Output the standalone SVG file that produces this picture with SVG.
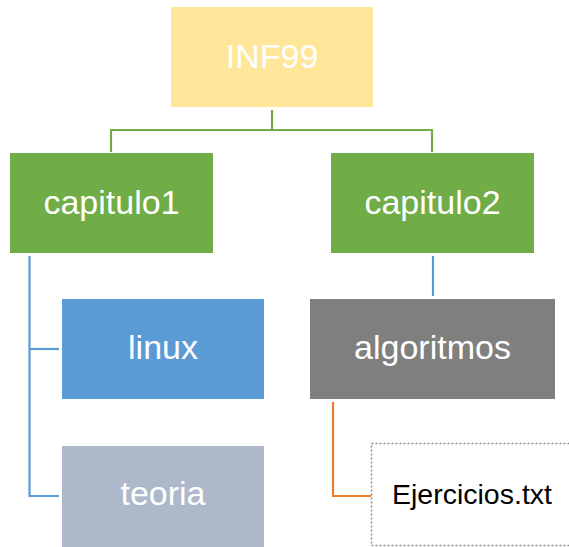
<svg xmlns="http://www.w3.org/2000/svg" width="569" height="547" viewBox="0 0 569 547">
<style>
.t{font-family:"Liberation Sans",Arial,sans-serif;font-size:34px;fill:#fff;text-anchor:middle}
.c{fill:none;stroke-width:2.2}
</style>
<rect width="569" height="547" fill="#fff"/>
<g id="connectors">
<polyline class="c" stroke="#70AD47" points="272,110 272,130"/>
<polyline class="c" stroke="#70AD47" points="111,152 111,130 432,130 432,152"/>
<polyline class="c" stroke="#5B9BD5" points="29.5,256 29.5,496 59,496"/>
<polyline class="c" stroke="#5B9BD5" points="29.5,349 59,349"/>
<polyline class="c" stroke="#5B9BD5" points="433,256 433,296"/>
<polyline class="c" stroke="#ED7D31" points="333,402 333,496 371,496"/>
</g>
<g id="inf99"><rect x="171" y="7" width="202" height="100" fill="#FFE699"/><text class="t" x="272" y="68">INF99</text></g>
<g id="capitulo1"><rect x="10" y="153" width="203" height="100" fill="#70AD47"/><text class="t" x="111.5" y="214">capitulo1</text></g>
<g id="capitulo2"><rect x="331" y="153" width="203" height="100" fill="#70AD47"/><text class="t" x="432.5" y="214">capitulo2</text></g>
<g id="linux"><rect x="62" y="299" width="202" height="100" fill="#5B9BD5"/><text class="t" x="163" y="359">linux</text></g>
<g id="teoria"><rect x="62" y="446" width="202" height="101" fill="#ADB9CA"/><text class="t" x="163" y="505">teoria</text></g>
<g id="algoritmos"><rect x="310" y="299" width="245" height="100" fill="#7F7F7F"/><text class="t" x="432.5" y="359">algoritmos</text></g>
<g id="ejercicios"><rect x="371.5" y="443.5" width="204" height="102" fill="#fff" stroke="#8C8C8C" stroke-width="1.5" stroke-dasharray="2,2"/><text class="t" x="472" y="504" style="fill:#000;font-size:28.5px">Ejercicios.txt</text></g>
</svg>
